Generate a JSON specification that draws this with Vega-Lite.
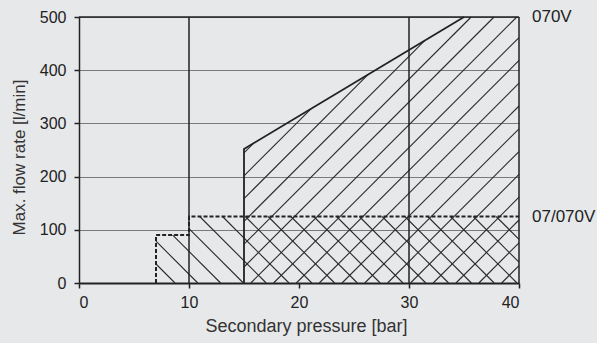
{
  "$schema": "https://vega.github.io/schema/vega-lite/v6.json",
  "width": 440,
  "height": 266,
  "autosize": {"type": "none"},
  "padding": {"left": 79, "top": 17, "right": 78, "bottom": 60},
  "background": "#e7e8ea",
  "config": {
    "view": {"stroke": null},
    "axis": {
      "domainColor": "#222222",
      "tickColor": "#222222",
      "tickSize": 5,
      "tickWidth": 1.5,
      "labelFont": "Liberation Sans",
      "labelFontSize": 16,
      "labelColor": "#222222",
      "titleFont": "Liberation Sans",
      "titleFontWeight": "normal",
      "titleColor": "#333333"
    }
  },
  "datasets": {
    "hatch": [
      {"family": "070V", "x": 15, "y": 244.4, "x2": 15.91, "y2": 263.2},
      {"family": "070V", "x": 15, "y": 201.5, "x2": 21.09, "y2": 327.4},
      {"family": "070V", "x": 15, "y": 158.6, "x2": 26.27, "y2": 391.7},
      {"family": "070V", "x": 15, "y": 115.8, "x2": 31.45, "y2": 456.0},
      {"family": "070V", "x": 15, "y": 72.9, "x2": 35.65, "y2": 500},
      {"family": "070V", "x": 15, "y": 30.1, "x2": 37.73, "y2": 500},
      {"family": "070V", "x": 15.62, "y": 0, "x2": 39.8, "y2": 500},
      {"family": "070V", "x": 17.69, "y": 0, "x2": 40, "y2": 461.3},
      {"family": "070V", "x": 19.76, "y": 0, "x2": 40, "y2": 418.4},
      {"family": "070V", "x": 21.84, "y": 0, "x2": 40, "y2": 375.6},
      {"family": "070V", "x": 23.91, "y": 0, "x2": 40, "y2": 332.7},
      {"family": "070V", "x": 25.98, "y": 0, "x2": 40, "y2": 289.8},
      {"family": "070V", "x": 28.05, "y": 0, "x2": 40, "y2": 247.0},
      {"family": "070V", "x": 30.13, "y": 0, "x2": 40, "y2": 204.1},
      {"family": "070V", "x": 32.2, "y": 0, "x2": 40, "y2": 161.3},
      {"family": "070V", "x": 34.27, "y": 0, "x2": 40, "y2": 118.4},
      {"family": "070V", "x": 36.35, "y": 0, "x2": 40, "y2": 75.6},
      {"family": "070V", "x": 38.42, "y": 0, "x2": 40, "y2": 32.7},
      {"family": "07/070V", "x": 7, "y": 35.7, "x2": 8.727, "y2": 0},
      {"family": "07/070V", "x": 7, "y": 78.6, "x2": 10.8, "y2": 0},
      {"family": "07/070V", "x": 8.518, "y": 90, "x2": 12.873, "y2": 0},
      {"family": "07/070V", "x": 10, "y": 102.3, "x2": 14.945, "y2": 0},
      {"family": "07/070V", "x": 10.973, "y": 125, "x2": 17.018, "y2": 0},
      {"family": "07/070V", "x": 13.045, "y": 125, "x2": 19.091, "y2": 0},
      {"family": "07/070V", "x": 15.118, "y": 125, "x2": 21.164, "y2": 0},
      {"family": "07/070V", "x": 17.191, "y": 125, "x2": 23.236, "y2": 0},
      {"family": "07/070V", "x": 19.264, "y": 125, "x2": 25.309, "y2": 0},
      {"family": "07/070V", "x": 21.336, "y": 125, "x2": 27.382, "y2": 0},
      {"family": "07/070V", "x": 23.409, "y": 125, "x2": 29.455, "y2": 0},
      {"family": "07/070V", "x": 25.482, "y": 125, "x2": 31.527, "y2": 0},
      {"family": "07/070V", "x": 27.555, "y": 125, "x2": 33.6, "y2": 0},
      {"family": "07/070V", "x": 29.627, "y": 125, "x2": 35.673, "y2": 0},
      {"family": "07/070V", "x": 31.7, "y": 125, "x2": 37.745, "y2": 0},
      {"family": "07/070V", "x": 33.773, "y": 125, "x2": 39.818, "y2": 0},
      {"family": "07/070V", "x": 35.845, "y": 125, "x2": 40, "y2": 39.1},
      {"family": "07/070V", "x": 37.918, "y": 125, "x2": 40, "y2": 82.0}
    ],
    "frame": [
      {"x": 10, "y": 0, "x2": 10, "y2": 500},
      {"x": 30, "y": 0, "x2": 30, "y2": 500},
      {"x": 40, "y": 0, "x2": 40, "y2": 500},
      {"x": 0, "y": 500, "x2": 40, "y2": 500}
    ],
    "limit070V": [
      {"order": 1, "pressure": 15, "flow": 0},
      {"order": 2, "pressure": 15, "flow": 252},
      {"order": 3, "pressure": 35, "flow": 500}
    ],
    "limit07": [
      {"order": 1, "pressure": 7, "flow": 0},
      {"order": 2, "pressure": 7, "flow": 90},
      {"order": 3, "pressure": 10, "flow": 90},
      {"order": 4, "pressure": 10, "flow": 125},
      {"order": 5, "pressure": 40, "flow": 125}
    ],
    "labels": [
      {"label": "070V", "pressure": 40, "flow": 500},
      {"label": "07/070V", "pressure": 40, "flow": 125}
    ]
  },
  "layer": [
    {
      "data": {"name": "hatch"},
      "mark": {"type": "rule", "color": "#2a2a2a", "strokeWidth": 1.1},
      "encoding": {
        "x": {
          "field": "x",
          "type": "quantitative",
          "scale": {"domain": [0, 40], "nice": false, "zero": false},
          "axis": {
            "values": [0, 10, 20, 30, 40],
            "grid": false,
            "domainWidth": 2,
            "labelPadding": 6,
            "title": "Secondary pressure [bar]",
            "titleFontSize": 18,
            "titlePadding": 7,
            "titleX": 227
          }
        },
        "y": {
          "field": "y",
          "type": "quantitative",
          "scale": {"domain": [0, 500], "nice": false},
          "axis": {
            "values": [0, 100, 200, 300, 400, 500],
            "grid": true,
            "gridColor": "#7a7a7a",
            "gridWidth": 1,
            "domainWidth": 1.5,
            "labelPadding": 8,
            "title": "Max. flow rate [l/min]",
            "titleFontSize": 17,
            "titleX": -51,
            "titleY": 140
          }
        },
        "x2": {"field": "x2"},
        "y2": {"field": "y2"}
      }
    },
    {
      "data": {"name": "frame"},
      "mark": {"type": "rule", "color": "#222222", "strokeWidth": 1.5},
      "encoding": {
        "x": {"field": "x", "type": "quantitative"},
        "y": {"field": "y", "type": "quantitative"},
        "x2": {"field": "x2"},
        "y2": {"field": "y2"}
      }
    },
    {
      "data": {"name": "limit070V"},
      "mark": {"type": "line", "color": "#222222", "strokeWidth": 1.8},
      "encoding": {
        "x": {"field": "pressure", "type": "quantitative"},
        "y": {"field": "flow", "type": "quantitative"},
        "order": {"field": "order"}
      }
    },
    {
      "data": {"name": "limit07"},
      "mark": {"type": "line", "color": "#222222", "strokeWidth": 2, "strokeDash": [4, 2]},
      "encoding": {
        "x": {"field": "pressure", "type": "quantitative"},
        "y": {"field": "flow", "type": "quantitative"},
        "order": {"field": "order"}
      }
    },
    {
      "data": {"name": "labels"},
      "mark": {"type": "text", "align": "left", "baseline": "middle", "dx": 13, "font": "Liberation Sans", "fontSize": 17, "color": "#222222"},
      "encoding": {
        "x": {"field": "pressure", "type": "quantitative"},
        "y": {"field": "flow", "type": "quantitative"},
        "text": {"field": "label"}
      }
    }
  ]
}
